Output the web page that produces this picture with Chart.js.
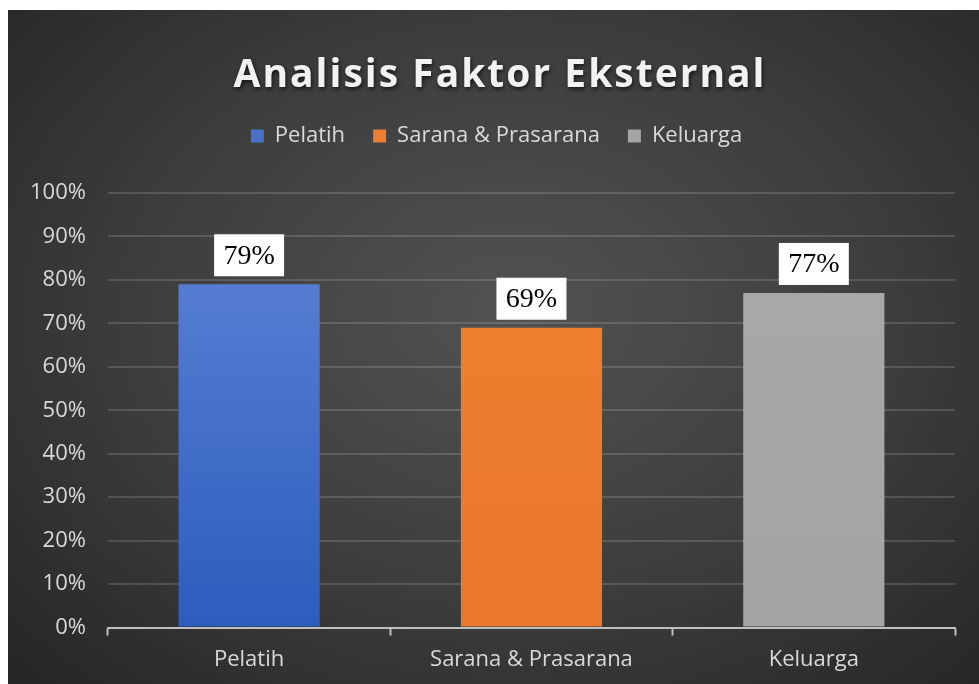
<!DOCTYPE html>
<html>
<head>
<meta charset="utf-8">
<script src="https://cdn.jsdelivr.net/npm/chart.js@4/dist/chart.umd.min.js"></script>
<style>
  html, body { margin: 0; padding: 0; background: #ffffff; }
  #wrap {
    position: absolute; left: 8px; top: 10px; width: 971px; height: 674px;
    background: radial-gradient(ellipse 70% 75% at 52% 45%, #525252 0%, #3d3d3d 55%, #272727 100%);
  }
  canvas { display: block; }
</style>
</head>
<body>
<div id="wrap"><canvas id="c" width="971" height="674"></canvas></div>
<script>
const chartTitle = 'Analisis Faktor Eksternal';
const categories = ['Pelatih', 'Sarana & Prasarana', 'Keluarga'];
const values = [79, 69, 77];
const barColorsTop = ['#5f86d8', '#f0822f', '#a9a9a9'];
const barColorsBottom = ['#2c5cbd', '#e9772c', '#a4a4a4'];
const legendColors = ['#4472c4', '#ed7d31', '#a5a5a5'];
const yMin = 0, yMax = 100, yStep = 10;

const titlePlugin = {
  id: 'customTitle',
  afterDraw(chart) {
    const ctx = chart.ctx;
    ctx.save();
    ctx.font = 'bold 39px "Open Sans"';
    if ('letterSpacing' in ctx) ctx.letterSpacing = '2px';
    ctx.textAlign = 'center';
    ctx.textBaseline = 'alphabetic';
    ctx.shadowColor = 'rgba(0,0,0,0.7)';
    ctx.shadowBlur = 4;
    ctx.shadowOffsetX = 1;
    ctx.shadowOffsetY = 2;
    ctx.fillStyle = '#f2f2f2';
    ctx.fillText(chartTitle, 492, 77);
    ctx.restore();
  }
};

const legendGapPlugin = {
  id: 'legendGap',
  beforeInit(chart) {
    const origFit = chart.legend.fit;
    chart.legend.fit = function () {
      origFit.call(this);
      this.height += 36;
    };
  },
  afterLayout(chart) {
    chart.legend.left += 30;
  }
};

const labelPlugin = {
  id: 'valueBoxes',
  afterDatasetsDraw(chart) {
    const ctx = chart.ctx;
    const meta = chart.getDatasetMeta(0);
    ctx.save();
    meta.data.forEach((el, i) => {
      const w = 70, h = 42, gap = 8;
      const x = el.x, top = el.y - gap - h;
      ctx.fillStyle = '#ffffff';
      ctx.fillRect(x - w / 2, top, w, h);
      ctx.fillStyle = '#000000';
      ctx.font = '28px "Liberation Serif"';
      ctx.textAlign = 'center';
      ctx.textBaseline = 'middle';
      ctx.fillText(values[i] + '%', x, top + h / 2 + 1);
    });
    ctx.restore();
  }
};

new Chart(document.getElementById('c'), {
  type: 'bar',
  data: {
    labels: categories,
    datasets: [{
      data: values,
      backgroundColor(context) {
        const chart = context.chart;
        const area = chart.chartArea;
        const i = context.dataIndex;
        if (!area) return legendColors[i];
        const g = chart.ctx.createLinearGradient(0, area.top, 0, area.bottom);
        g.addColorStop(0, barColorsTop[i]);
        g.addColorStop(1, barColorsBottom[i]);
        return g;
      },
      borderWidth: 0,
      categoryPercentage: 1.0,
      barPercentage: 0.5
    }]
  },
  options: {
    responsive: false,
    animation: false,
    layout: { padding: { top: 87, right: 24, left: 0, bottom: 0 } },
    plugins: {
      title: { display: false },
      tooltip: { enabled: false },
      legend: {
        display: true,
        position: 'top',
        labels: {
          color: '#d9d9d9',
          font: { family: '"Open Sans"', size: 22 },
          boxWidth: 13,
          boxHeight: 13,
          padding: 28,
          generateLabels(chart) {
            return categories.map((c, i) => ({
              text: c,
              fillStyle: legendColors[i],
              strokeStyle: legendColors[i],
              lineWidth: 0,
              fontColor: '#d9d9d9',
              hidden: false,
              index: i,
              datasetIndex: 0
            }));
          }
        }
      }
    },
    scales: {
      x: {
        offset: true,
        grid: {
          display: true,
          offset: true,
          drawOnChartArea: false,
          drawTicks: true,
          tickLength: 8,
          tickWidth: 2,
          tickColor: '#bfbfbf'
        },
        border: { display: true, color: '#bfbfbf', width: 2 },
        ticks: {
          color: '#d9d9d9',
          font: { family: '"Open Sans"', size: 22 },
          padding: 11
        }
      },
      y: {
        min: yMin,
        max: yMax,
        ticks: {
          stepSize: yStep,
          color: '#d9d9d9',
          font: { family: '"Open Sans"', size: 22 },
          padding: 22,
          callback: v => v + '%'
        },
        grid: {
          color: 'rgba(255,255,255,0.15)',
          lineWidth: 2,
          drawTicks: false
        },
        border: { display: false }
      }
    }
  },
  plugins: [legendGapPlugin, titlePlugin, labelPlugin]
});
</script>
</body>
</html>
